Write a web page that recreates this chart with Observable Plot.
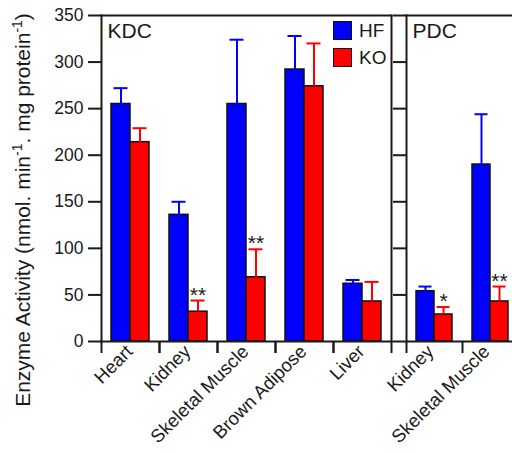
<!DOCTYPE html>
<html><head><meta charset="utf-8">
<script src="https://cdn.jsdelivr.net/npm/d3@7"></script>
<script src="https://cdn.jsdelivr.net/npm/@observablehq/plot@0.6"></script>
<style>
html,body{margin:0;padding:0;background:#fff;}
#chart{position:relative;width:512px;height:453px;overflow:hidden;font-family:"Liberation Sans",Arial,sans-serif;color:#1a1a1a;}
#chart svg{position:absolute;top:0;}
#ytitle{position:absolute;left:23px;top:210px;transform:translate(-50%,-50%) rotate(-90deg);white-space:nowrap;font-size:21px;}
#ytitle sup{font-size:14px;vertical-align:8px;line-height:0;}
#legend{position:absolute;left:333px;top:21px;font-size:19px;}
#legend .row{display:flex;align-items:center;height:19px;margin-bottom:8px;}
#legend .sw{width:17px;height:17px;border:1px solid #111;margin-right:7px;}
</style></head><body><div id="chart"><div id="ytitle"></div><div id="legend"></div></div>
<script>
const groups = ["HF", "KO"];
const colors = ["#0000ff", "#ff0000"];
const yTicks = [0, 50, 100, 150, 200, 250, 300, 350];

const kdcTissues = ["Heart", "Kidney", "Skeletal Muscle", "Brown Adipose", "Liver"];
const kdcHF    = [255, 136, 255, 292, 62];
const kdcHFerr = [272, 150, 324, 328, 66];
const kdcKO    = [214, 32, 69, 274, 43];
const kdcKOerr = [229, 44, 99, 320, 64];
const kdcSig   = ["", "**", "**", "", ""];

const pdcTissues = ["Kidney", "Skeletal Muscle"];
const pdcHF    = [54, 190];
const pdcHFerr = [59, 244];
const pdcKO    = [29, 43];
const pdcKOerr = [37, 59];
const pdcSig   = ["*", "**"];

function rows(tissues, hf, hfErr, ko, koErr, sig) {
  const out = [];
  tissues.forEach((t, i) => {
    out.push({tissue: t, group: "HF", value: hf[i], err: hfErr[i], sig: ""});
    out.push({tissue: t, group: "KO", value: ko[i], err: koErr[i], sig: sig[i]});
  });
  return out;
}

const font = "'Liberation Sans', Arial, sans-serif";

function panel({tissues, data, title, width, marginLeft, marginRight, yLabels, rightBorder, labelDx}) {
  const bw = (width - marginLeft - marginRight) / tissues.length;
  const marks = [
    Plot.barY(data, {fx: "tissue", x: "group", y: "value", fill: "group", stroke: "#111", strokeWidth: 1.5}),
    Plot.ruleX(data, {fx: "tissue", x: "group", y1: "value", y2: "err", stroke: "group", strokeWidth: 2}),
    Plot.tickY(data, {fx: "tissue", x: "group", y: "err", stroke: "group", strokeWidth: 2, inset: 2.5}),
    Plot.text(data.filter(d => d.sig), {fx: "tissue", x: "group", y: "err", text: "sig", lineAnchor: "bottom", dy: 1, fontSize: 21, fill: "#1a1a1a"}),
    Plot.axisY(yTicks, {tickSize: 13, tickPadding: 5, strokeWidth: 2, fontSize: 17.5, label: null,
      tickFormat: yLabels ? (d => d) : (() => "")}),
    Plot.frame({facet: "super", anchor: "left", strokeWidth: 2}),
    Plot.frame({facet: "super", anchor: "top", strokeWidth: 2}),
    Plot.frame({facet: "super", anchor: "bottom", strokeWidth: 2}),
    Plot.axisFx({anchor: "bottom", tickSize: 12, strokeWidth: 2, dx: -bw / 2, tickFormat: () => "", label: null}),
    Plot.axisFx({anchor: "bottom", tickSize: 0, tickRotate: -45, tickPadding: 7, dx: labelDx, fontSize: 18.5, label: null}),
    Plot.text([title], {facet: "super", frameAnchor: "top-left", dx: 6, dy: 8, lineAnchor: "top", fontSize: 21, fill: "#1a1a1a"})
  ];
  if (rightBorder) {
    marks.push(Plot.frame({facet: "super", anchor: "right", strokeWidth: 2}));
    marks.push(Plot.axisFx([tissues[tissues.length - 1]], {anchor: "bottom", tickSize: 12, strokeWidth: 2, dx: bw / 2, tickFormat: () => "", label: null}));
  }
  return Plot.plot({
    width, height: 453,
    marginTop: 15, marginBottom: 112, marginLeft, marginRight,
    style: {fontFamily: font, fontSize: "17.5px", color: "#1a1a1a", background: "transparent", overflow: "visible"},
    fx: {domain: tissues, padding: 0},
    x: {domain: groups, paddingInner: 0, paddingOuter: 0.48, axis: null},
    y: {domain: [0, 350]},
    color: {domain: groups, range: colors},
    marks
  });
}

const chart = document.getElementById("chart");
const kdc = panel({tissues: kdcTissues, data: rows(kdcTissues, kdcHF, kdcHFerr, kdcKO, kdcKOerr, kdcSig),
  title: "KDC", width: 393, marginLeft: 101, marginRight: 2, yLabels: true, rightBorder: true, labelDx: -1});
kdc.style.left = "0px";
chart.appendChild(kdc);
const pdc = panel({tissues: pdcTissues, data: rows(pdcTissues, pdcHF, pdcHFerr, pdcKO, pdcKOerr, pdcSig),
  title: "PDC", width: 130, marginLeft: 16, marginRight: 2, yLabels: false, rightBorder: false, labelDx: -4});
pdc.style.left = "390px";
chart.appendChild(pdc);

document.getElementById("ytitle").innerHTML = "Enzyme Activity (nmol. min<sup>-1</sup>. mg protein<sup>-1</sup>)";
const legend = document.getElementById("legend");
groups.forEach((g, i) => {
  const row = document.createElement("div");
  row.className = "row";
  row.innerHTML = `<div class="sw" style="background:${colors[i]}"></div><span>${g}</span>`;
  legend.appendChild(row);
});
</script>
</body></html>
